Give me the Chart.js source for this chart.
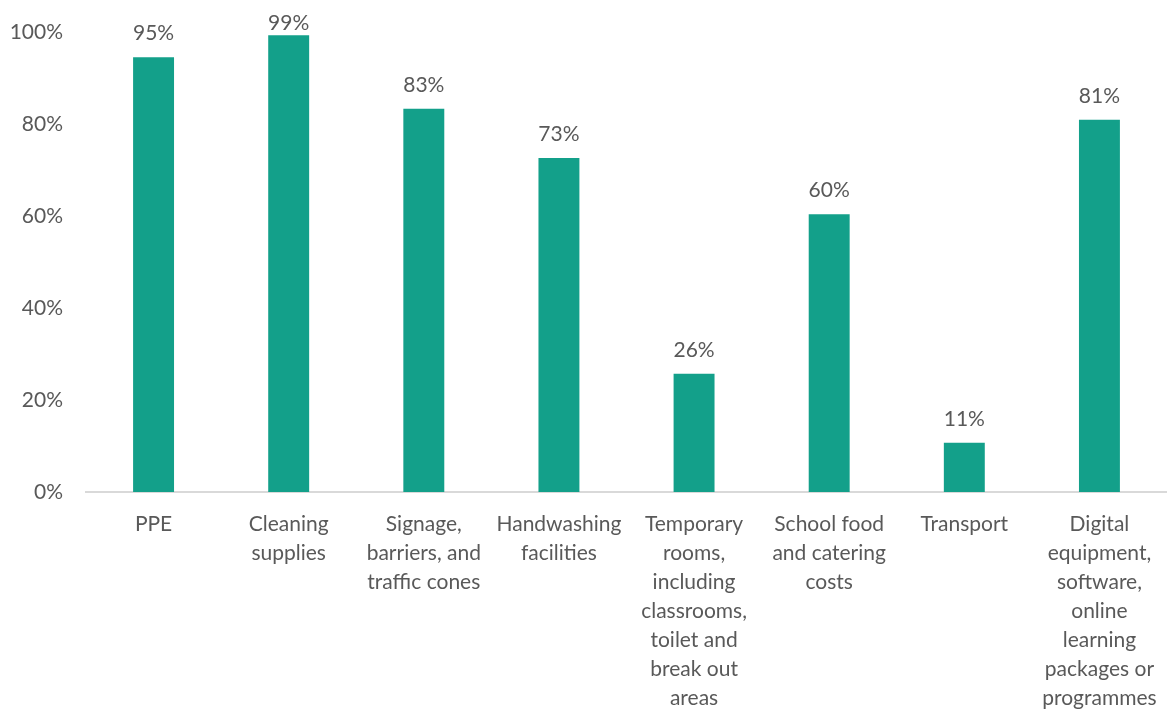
<!DOCTYPE html>
<html>
<head>
<meta charset="utf-8">
<script src="https://cdn.jsdelivr.net/npm/chart.js@4"></script>
<style>
html,body{margin:0;padding:0;background:#fff;}
#wrap{width:1167px;height:713px;position:relative;}
</style>
</head>
<body>
<div id="wrap"><canvas id="c" width="1167" height="713"></canvas></div>
<script>
const categories = [
  ["PPE"],
  ["Cleaning", "supplies"],
  ["Signage,", "barriers, and", "traffic cones"],
  ["Handwashing", "facilities"],
  ["Temporary", "rooms,", "including", "classrooms,", "toilet and", "break out", "areas"],
  ["School food", "and catering", "costs"],
  ["Transport"],
  ["Digital", "equipment,", "software,", "online", "learning", "packages or", "programmes"]
];
const values = [94.5, 99.3, 83.3, 72.6, 25.7, 60.4, 10.7, 80.9];
const yTicks = [0, 20, 40, 60, 80, 100];

const FONT = "Lato";
const TEXT = "#595959";

const labelPlugin = {
  id: "barLabels",
  afterDatasetsDraw(chart) {
    const ctx = chart.ctx;
    const meta = chart.getDatasetMeta(0);
    ctx.save();
    ctx.font = "21px " + FONT;
    ctx.fillStyle = TEXT;
    ctx.textAlign = "center";
    ctx.textBaseline = "alphabetic";
    meta.data.forEach((bar, i) => {
      const yb = Math.max(bar.y - 17, 30);
      ctx.fillText(Math.round(values[i]) + "%", bar.x, yb);
    });
    ctx.restore();
  }
};

new Chart(document.getElementById("c"), {
  type: "bar",
  data: {
    labels: categories,
    datasets: [{
      data: values,
      backgroundColor: "#13a08a",
      barPercentage: 0.303,
      categoryPercentage: 1
    }]
  },
  options: {
    responsive: false,
    animation: false,
    devicePixelRatio: 1,
    layout: { padding: { top: 32, right: 0, bottom: 0, left: 0 } },
    plugins: { legend: { display: false }, tooltip: { enabled: false } },
    scales: {
      y: {
        min: 0, max: 100,
        afterBuildTicks(axis) { axis.ticks = yTicks.map(v => ({ value: v })); },
        afterFit(axis) { axis.width = 86; axis.paddingTop = 0; axis.paddingBottom = 0; },
        grid: { display: false, drawTicks: false },
        border: { display: false },
        ticks: {
          color: TEXT,
          font: { family: FONT, size: 21 },
          padding: 23,
          callback: v => v + "%"
        }
      },
      x: {
        afterFit(axis) { axis.height = 713 - 32 - 460; axis.paddingLeft = 0; axis.paddingRight = 0; },
        grid: { display: false, drawTicks: false },
        border: { display: true, color: "#d9d9d9", width: 2 },
        ticks: {
          color: TEXT,
          font: { family: FONT, size: 21, lineHeight: 29 / 21 },
          padding: 18,
          maxRotation: 0,
          autoSkip: false
        }
      }
    }
  },
  plugins: [labelPlugin]
});
</script>
</body>
</html>
